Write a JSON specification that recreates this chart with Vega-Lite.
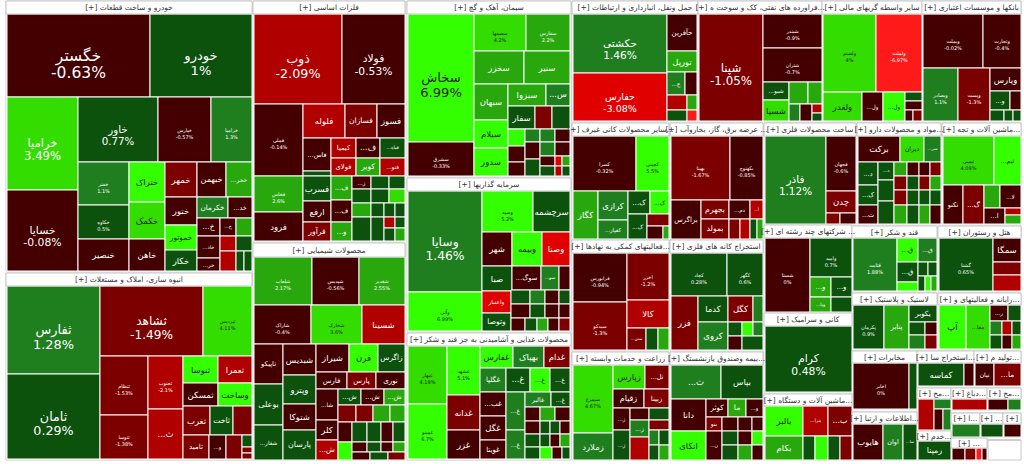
{
"$schema":"https://vega.github.io/schema/vega-lite/v6.json",
"width":1024,"height":464,"padding":0,
"autosize":{"type":"fit","contains":"padding"},
"background":"#ffffff",
"config":{"view":{"stroke":null},"font":"DejaVu Sans"},
"datasets":{
"groups":[
{"t":"[+] خودرو و ساخت قطعات","x0":6,"x1":252,"y0":1,"yh":14,"y1":271},
{"t":"[+] انبوه سازی، املاک و مستغلات","x0":6,"x1":252,"y0":273,"yh":286,"y1":460},
{"t":"[+] فلزات اساسی","x0":253,"x1":405,"y0":1,"yh":14,"y1":241},
{"t":"[+] محصولات شیمیایی","x0":253,"x1":405,"y0":243,"yh":257,"y1":460},
{"t":"[+] سیمان، آهک و گچ","x0":407,"x1":571,"y0":1,"yh":14,"y1":176},
{"t":"[+] سرمایه گذاریها","x0":407,"x1":571,"y0":178,"yh":191,"y1":331},
{"t":"[+] محصولات غذایی و آشامیدنی به جز قند و شکر","x0":407,"x1":571,"y0":333,"yh":346,"y1":460},
{"t":"[+] حمل ونقل، انبارداری و ارتباطات","x0":572,"x1":698,"y0":1,"yh":14,"y1":121},
{"t":"[+] فراورده های نفتی، کک و سوخت ه...","x0":698,"x1":822,"y0":1,"yh":14,"y1":121},
{"t":"[+] سایر واسطه گریهای مالی","x0":822,"x1":922,"y0":1,"yh":14,"y1":121},
{"t":"[+] بانکها و موسسات اعتباری","x0":922,"x1":1021,"y0":1,"yh":14,"y1":121},
{"t":"[+] سایر محصولات کانی غیرف...","x0":572,"x1":669,"y0":123,"yh":136,"y1":239},
{"t":"[+] عرضه برق، گاز، بخاروآب ...","x0":670,"x1":763,"y0":123,"yh":136,"y1":239},
{"t":"[+] ساخت محصولات فلزی","x0":764,"x1":856,"y0":123,"yh":136,"y1":224},
{"t":"[+] مواد و محصولات دارو...","x0":857,"x1":941,"y0":123,"yh":136,"y1":224},
{"t":"[+] ماشین آلات و تجه...","x0":942,"x1":1021,"y0":123,"yh":136,"y1":224},
{"t":"[+] شرکتهای چند رشته ای ...","x0":764,"x1":852,"y0":225,"yh":238,"y1":312},
{"t":"[+] کانی و سرامیک","x0":764,"x1":852,"y0":313,"yh":326,"y1":392},
{"t":"[+] ماشین آلات و دستگاه...","x0":764,"x1":852,"y0":394,"yh":406,"y1":460},
{"t":"[+] فعالیتهای کمکی به نهادها...","x0":572,"x1":669,"y0":240,"yh":253,"y1":350},
{"t":"[+] زراعت و خدمات وابسته","x0":572,"x1":669,"y0":352,"yh":365,"y1":460},
{"t":"[+] استخراج کانه های فلزی","x0":670,"x1":763,"y0":240,"yh":253,"y1":350},
{"t":"[+] بیمه وصندوق بازنشستگ...","x0":670,"x1":763,"y0":352,"yh":365,"y1":460},
{"t":"[+] قند و شکر","x0":852,"x1":937,"y0":226,"yh":238,"y1":291},
{"t":"[+] هتل و رستوران","x0":938,"x1":1021,"y0":226,"yh":238,"y1":291},
{"t":"[+] لاستیک و پلاستیک","x0":852,"x1":937,"y0":293,"yh":305,"y1":349},
{"t":"[+] رایانه و فعالیتهای و...","x0":938,"x1":1021,"y0":293,"yh":305,"y1":349},
{"t":"[+] مخابرات","x0":852,"x1":917,"y0":351,"yh":363,"y1":409},
{"t":"[+] استخراج سا...","x0":917,"x1":974,"y0":351,"yh":363,"y1":386},
{"t":"[+] تولید م...","x0":974,"x1":1021,"y0":351,"yh":363,"y1":386},
{"t":"[+] مح...","x0":917,"x1":951,"y0":388,"yh":399,"y1":430},
{"t":"[+] دباغ...","x0":951,"x1":987,"y0":388,"yh":399,"y1":410},
{"t":"[+] مح...","x0":987,"x1":1021,"y0":388,"yh":399,"y1":410},
{"t":"[+] اطلاعات و ارتبا...","x0":852,"x1":917,"y0":412,"yh":424,"y1":460},
{"t":"[+] ا...","x0":951,"x1":980,"y0":413,"yh":424,"y1":437},
{"t":"[+] ...","x0":980,"x1":1003,"y0":413,"yh":424,"y1":437},
{"t":"[+]","x0":1003,"x1":1021,"y0":413,"yh":424,"y1":437},
{"t":"[+] خدم...","x0":917,"x1":951,"y0":431,"yh":441,"y1":460},
{"t":"[+] ...","x0":951,"x1":987,"y0":438,"yh":448,"y1":460},
{"t":"","x0":988,"x1":1021,"y0":440,"yh":440,"y1":460}
],
"cells":[
{"n":"خگستر","p":"-0.63%","c":-0.63,"x0":7,"x1":150,"y0":14,"y1":97},
{"n":"خودرو","p":"1%","c":0.99,"x0":150,"x1":252,"y0":14,"y1":97},
{"n":"خرامیا","p":"3.49%","c":3.49,"x0":7,"x1":78,"y0":97,"y1":190},
{"n":"خسایا","p":"-0.08%","c":-0.08,"x0":7,"x1":78,"y0":190,"y1":271},
{"n":"خاور","p":"0.77%","c":0.77,"x0":78,"x1":158,"y0":97,"y1":162},
{"n":"خپارس","p":"-0.57%","c":-0.57,"x0":158,"x1":211,"y0":97,"y1":162},
{"n":"خزامیا","p":"1.3%","c":1.3,"x0":211,"x1":252,"y0":97,"y1":162},
{"n":"خفنر","p":"1.1%","c":1.1,"x0":78,"x1":129,"y0":162,"y1":205},
{"n":"خکاوه","p":"0.5%","c":0.5,"x0":78,"x1":129,"y0":205,"y1":239},
{"n":"خنصیر","c":-0.5,"x0":78,"x1":129,"y0":239,"y1":271},
{"n":"ختراک","c":6,"x0":129,"x1":165,"y0":162,"y1":202},
{"n":"خکمک","c":4,"x0":129,"x1":165,"y0":202,"y1":239},
{"n":"خاهن","c":-0.5,"x0":129,"x1":165,"y0":239,"y1":271},
{"n":"خمهر","c":-1.5,"x0":165,"x1":197,"y0":162,"y1":197},
{"n":"ختور","c":-0.5,"x0":165,"x1":197,"y0":197,"y1":225},
{"n":"خموتور","c":6,"x0":165,"x1":197,"y0":225,"y1":250},
{"n":"خکار","c":0.5,"x0":165,"x1":197,"y0":250,"y1":271},
{"n":"خبهمن","c":-0.5,"x0":197,"x1":226,"y0":162,"y1":197},
{"n":"...خجر","c":2.5,"x0":226,"x1":252,"y0":162,"y1":197},
{"n":"خکرمان","c":1.5,"x0":197,"x1":228,"y0":197,"y1":218},
{"n":"...خد","c":-0.5,"x0":228,"x1":252,"y0":197,"y1":218},
{"n":"...خ","c":-0.5,"x0":197,"x1":220,"y0":218,"y1":236},
{"n":"...خ","c":-0.5,"x0":220,"x1":236,"y0":218,"y1":236},
{"n":"","c":2.5,"x0":236,"x1":252,"y0":218,"y1":236},
{"n":"...خاذ","c":-0.5,"x0":197,"x1":220,"y0":236,"y1":258},
{"n":"","c":-2.2,"x0":220,"x1":236,"y0":236,"y1":251},
{"n":"","c":0.5,"x0":236,"x1":252,"y0":236,"y1":251},
{"n":"...خر","c":-0.5,"x0":197,"x1":220,"y0":258,"y1":271},
{"n":"","c":-2.2,"x0":220,"x1":236,"y0":251,"y1":271},
{"n":"","c":0.5,"x0":236,"x1":244,"y0":251,"y1":271},
{"n":"","c":0.5,"x0":244,"x1":252,"y0":251,"y1":271},

{"n":"ثفارس","p":"1.28%","c":1.28,"x0":7,"x1":100,"y0":286,"y1":374},
{"n":"ثامان","p":"0.29%","c":0.29,"x0":7,"x1":100,"y0":374,"y1":459},
{"n":"ثشاهد","p":"-1.49%","c":-1.49,"x0":100,"x1":203,"y0":286,"y1":356},
{"n":"ثپردیس","p":"4.11%","c":4.11,"x0":203,"x1":252,"y0":286,"y1":356},
{"n":"ثنظام","p":"-1.53%","c":-1.53,"x0":100,"x1":148,"y0":356,"y1":415},
{"n":"ثتوسا","p":"-1.38%","c":-1.38,"x0":100,"x1":148,"y0":415,"y1":459},
{"n":"ثجنوب","p":"-2.1%","c":-2.1,"x0":148,"x1":183,"y0":356,"y1":409},
{"n":"...ث","c":-2.2,"x0":148,"x1":183,"y0":409,"y1":459},
{"n":"ثنوسا","c":6,"x0":183,"x1":218,"y0":356,"y1":383},
{"n":"ثعمرا","c":-2.2,"x0":218,"x1":252,"y0":356,"y1":383},
{"n":"ثمسکن","c":-0.5,"x0":183,"x1":218,"y0":383,"y1":406},
{"n":"وساخت","c":6,"x0":218,"x1":252,"y0":383,"y1":406},
{"n":"ثغرب","c":-1.5,"x0":183,"x1":210,"y0":406,"y1":435},
{"n":"ثاخت","c":0.5,"x0":210,"x1":233,"y0":406,"y1":435},
{"n":"","c":-1.5,"x0":233,"x1":252,"y0":406,"y1":435},
{"n":"ثامید","c":-1.5,"x0":183,"x1":209,"y0":435,"y1":459},
{"n":"...و","c":-0.5,"x0":209,"x1":226,"y0":435,"y1":459},
{"n":"","c":-1.5,"x0":226,"x1":242,"y0":435,"y1":459},
{"n":"","c":0.5,"x0":242,"x1":252,"y0":435,"y1":447},
{"n":"","c":-1.5,"x0":242,"x1":252,"y0":447,"y1":453},
{"n":"","c":-1.5,"x0":242,"x1":252,"y0":453,"y1":459},

{"n":"ذوب","p":"-2.09%","c":-2.09,"x0":254,"x1":342,"y0":14,"y1":104},
{"n":"فولاد","p":"-0.53%","c":-0.53,"x0":342,"x1":405,"y0":14,"y1":104},
{"n":"فملی","p":"-0.14%","c":-0.14,"x0":254,"x1":303,"y0":104,"y1":176},
{"n":"فلوله","c":-2.2,"x0":303,"x1":345,"y0":104,"y1":138},
{"n":"فسازان","c":-1.5,"x0":345,"x1":377,"y0":104,"y1":138},
{"n":"فسوز","c":-0.5,"x0":377,"x1":405,"y0":104,"y1":138},
{"n":"...فاس","c":-0.5,"x0":303,"x1":331,"y0":138,"y1":171},
{"n":"","c":0.5,"x0":303,"x1":331,"y0":171,"y1":176},
{"n":"کیمیا","c":-2.2,"x0":331,"x1":356,"y0":138,"y1":158},
{"n":"...ف","c":-0.5,"x0":356,"x1":380,"y0":138,"y1":158},
{"n":"...فباه","c":0.5,"x0":380,"x1":405,"y0":138,"y1":158},
{"n":"فولای","c":-2.2,"x0":331,"x1":356,"y0":158,"y1":176},
{"n":"کویر","c":2.5,"x0":356,"x1":380,"y0":158,"y1":176},
{"n":"...فنو","c":-2.2,"x0":380,"x1":405,"y0":158,"y1":176},
{"n":"فخاس","p":"2.6%","c":2.6,"x0":254,"x1":303,"y0":176,"y1":212},
{"n":"فرود","c":-0.5,"x0":254,"x1":303,"y0":212,"y1":241},
{"n":"فسرب","c":0.5,"x0":303,"x1":331,"y0":176,"y1":201},
{"n":"ارفع","c":-0.5,"x0":303,"x1":331,"y0":201,"y1":222},
{"n":"فرآور","c":-1.5,"x0":303,"x1":331,"y0":222,"y1":241},
{"n":"...ف","c":2.5,"x0":331,"x1":352,"y0":176,"y1":200},
{"n":"...ف","c":-0.5,"x0":331,"x1":352,"y0":200,"y1":222},
{"n":"...و","c":2.5,"x0":331,"x1":352,"y0":222,"y1":241},
{"n":"...ز","c":-0.5,"x0":352,"x1":371,"y0":176,"y1":189},
{"n":"","c":0.5,"x0":371,"x1":389,"y0":176,"y1":189},
{"n":"","c":0.5,"x0":389,"x1":405,"y0":176,"y1":189},
{"n":"","c":0.5,"x0":352,"x1":371,"y0":189,"y1":203},
{"n":"","c":0.5,"x0":371,"x1":389,"y0":189,"y1":203},
{"n":"","c":4,"x0":389,"x1":405,"y0":189,"y1":203},
{"n":"","c":2.5,"x0":352,"x1":371,"y0":203,"y1":217},
{"n":"","c":0.5,"x0":371,"x1":384,"y0":203,"y1":217},
{"n":"","c":0.5,"x0":384,"x1":395,"y0":203,"y1":217},
{"n":"","c":0.5,"x0":395,"x1":405,"y0":203,"y1":217},
{"n":"","c":0.5,"x0":352,"x1":371,"y0":217,"y1":241},
{"n":"","c":0.5,"x0":371,"x1":384,"y0":217,"y1":241},
{"n":"","c":-2.2,"x0":384,"x1":395,"y0":217,"y1":228},
{"n":"","c":0.5,"x0":395,"x1":405,"y0":217,"y1":228},
{"n":"","c":0.5,"x0":384,"x1":395,"y0":228,"y1":241},
{"n":"","c":2.5,"x0":395,"x1":405,"y0":228,"y1":241},

{"n":"شلعاب","p":"2.17%","c":2.17,"x0":254,"x1":312,"y0":257,"y1":305},
{"n":"شپدیس","p":"-0.56%","c":-0.56,"x0":312,"x1":359,"y0":257,"y1":305},
{"n":"شغدیر","p":"2.55%","c":2.55,"x0":359,"x1":405,"y0":257,"y1":305},
{"n":"شاراک","p":"-0.4%","c":-0.4,"x0":254,"x1":311,"y0":305,"y1":344},
{"n":"شخارک","p":"3.6%","c":3.6,"x0":311,"x1":362,"y0":305,"y1":344},
{"n":"شسینا","c":-2.2,"x0":362,"x1":405,"y0":305,"y1":344},
{"n":"تاپیکو","c":-0.5,"x0":254,"x1":283,"y0":344,"y1":384},
{"n":"بوعلی","c":0.5,"x0":254,"x1":283,"y0":384,"y1":425},
{"n":"...شفار","c":0.5,"x0":254,"x1":283,"y0":425,"y1":460},
{"n":"شبدیس","c":-0.5,"x0":283,"x1":316,"y0":344,"y1":375},
{"n":"وپترو","c":0.5,"x0":283,"x1":316,"y0":375,"y1":404},
{"n":"شتوکا","c":-0.5,"x0":283,"x1":316,"y0":404,"y1":430},
{"n":"پارسان","c":0.5,"x0":283,"x1":316,"y0":430,"y1":460},
{"n":"شیراز","c":-0.5,"x0":316,"x1":349,"y0":344,"y1":372},
{"n":"فرن","c":6,"x0":349,"x1":378,"y0":344,"y1":372},
{"n":"زاگرس","c":0.5,"x0":378,"x1":405,"y0":344,"y1":372},
{"n":"فارس","c":-0.5,"x0":316,"x1":347,"y0":372,"y1":389},
{"n":"پارس","c":-1.5,"x0":347,"x1":376,"y0":372,"y1":389},
{"n":"نوری","c":-0.5,"x0":376,"x1":405,"y0":372,"y1":389},
{"n":"...شا","c":-0.5,"x0":316,"x1":338,"y0":389,"y1":420},
{"n":"کلر","c":-0.5,"x0":316,"x1":338,"y0":420,"y1":440},
{"n":"...ش","c":-2.2,"x0":316,"x1":338,"y0":440,"y1":460},
{"n":"...ش","c":0.5,"x0":338,"x1":361,"y0":389,"y1":405},
{"n":"...ش","c":-0.5,"x0":361,"x1":384,"y0":389,"y1":405},
{"n":"...ش","c":2.5,"x0":384,"x1":405,"y0":389,"y1":405},
{"n":"","c":-1.5,"x0":338,"x1":356,"y0":405,"y1":422},
{"n":"","c":-1.5,"x0":356,"x1":373,"y0":405,"y1":422},
{"n":"","c":2.5,"x0":373,"x1":390,"y0":405,"y1":422},
{"n":"","c":2.5,"x0":390,"x1":405,"y0":405,"y1":422},
{"n":"","c":-0.5,"x0":338,"x1":352,"y0":422,"y1":442},
{"n":"","c":0.5,"x0":352,"x1":367,"y0":422,"y1":442},
{"n":"","c":0.5,"x0":367,"x1":381,"y0":422,"y1":442},
{"n":"","c":-0.5,"x0":381,"x1":393,"y0":422,"y1":442},
{"n":"","c":0.5,"x0":393,"x1":405,"y0":422,"y1":442},
{"n":"","c":6,"x0":338,"x1":352,"y0":442,"y1":460},
{"n":"","c":-0.5,"x0":352,"x1":367,"y0":442,"y1":452},
{"n":"","c":0.5,"x0":367,"x1":381,"y0":442,"y1":452},
{"n":"","c":-0.5,"x0":381,"x1":393,"y0":442,"y1":452},
{"n":"","c":2.5,"x0":393,"x1":405,"y0":442,"y1":452},
{"n":"","c":-0.5,"x0":352,"x1":370,"y0":452,"y1":460},
{"n":"","c":0.5,"x0":370,"x1":388,"y0":452,"y1":460},
{"n":"","c":-1.5,"x0":388,"x1":405,"y0":452,"y1":460},

{"n":"سخاش","p":"6.99%","c":6.99,"x0":408,"x1":474,"y0":14,"y1":142},
{"n":"سشرق","p":"-0.33%","c":-0.33,"x0":408,"x1":474,"y0":142,"y1":176},
{"n":"سصفها","p":"4.2%","c":4.2,"x0":474,"x1":526,"y0":14,"y1":51},
{"n":"سفارس","p":"2.2%","c":2.2,"x0":526,"x1":570,"y0":14,"y1":51},
{"n":"سخزر","c":2.5,"x0":474,"x1":524,"y0":51,"y1":84},
{"n":"سنیر","c":2.5,"x0":524,"x1":570,"y0":51,"y1":84},
{"n":"سبهان","c":2.5,"x0":474,"x1":508,"y0":84,"y1":120},
{"n":"سیلام","c":6,"x0":474,"x1":508,"y0":120,"y1":148},
{"n":"سدور","c":6,"x0":474,"x1":508,"y0":148,"y1":176},
{"n":"سبزوا","c":2.5,"x0":508,"x1":546,"y0":84,"y1":106},
{"n":"...س","c":1.5,"x0":546,"x1":570,"y0":84,"y1":106},
{"n":"سفار","c":0.5,"x0":508,"x1":535,"y0":106,"y1":129},
{"n":"","c":-1.5,"x0":535,"x1":552,"y0":106,"y1":129},
{"n":"","c":0.5,"x0":552,"x1":570,"y0":106,"y1":129},
{"n":"","c":6,"x0":508,"x1":525,"y0":129,"y1":146},
{"n":"","c":1.5,"x0":525,"x1":540,"y0":129,"y1":142},
{"n":"","c":1.5,"x0":540,"x1":555,"y0":129,"y1":142},
{"n":"","c":-0.5,"x0":555,"x1":570,"y0":129,"y1":142},
{"n":"","c":-0.5,"x0":508,"x1":525,"y0":146,"y1":162},
{"n":"","c":-0.5,"x0":508,"x1":525,"y0":162,"y1":176},
{"n":"","c":-0.5,"x0":525,"x1":540,"y0":142,"y1":159},
{"n":"","c":1.5,"x0":540,"x1":555,"y0":142,"y1":156},
{"n":"","c":-0.5,"x0":555,"x1":570,"y0":142,"y1":156},
{"n":"","c":0.5,"x0":525,"x1":540,"y0":159,"y1":176},
{"n":"","c":-0.5,"x0":540,"x1":555,"y0":156,"y1":166},
{"n":"","c":-3.5,"x0":555,"x1":562,"y0":156,"y1":166},
{"n":"","c":2.5,"x0":562,"x1":570,"y0":156,"y1":166},
{"n":"","c":0.5,"x0":540,"x1":555,"y0":166,"y1":176},
{"n":"","c":-2.2,"x0":555,"x1":562,"y0":166,"y1":176},
{"n":"","c":0.5,"x0":562,"x1":570,"y0":166,"y1":176},

{"n":"وسایا","p":"1.46%","c":1.46,"x0":408,"x1":482,"y0":191,"y1":292},
{"n":"وآتی","p":"6.99%","c":6.99,"x0":408,"x1":482,"y0":292,"y1":331},
{"n":"وسپه","p":"5.2%","c":5.2,"x0":482,"x1":533,"y0":191,"y1":232},
{"n":"سرچشمه","c":0.5,"x0":533,"x1":570,"y0":191,"y1":232},
{"n":"شهر","c":-0.5,"x0":482,"x1":512,"y0":232,"y1":266},
{"n":"وبیمه","c":6,"x0":512,"x1":542,"y0":232,"y1":266},
{"n":"وصنا","c":-3.5,"x0":542,"x1":570,"y0":232,"y1":266},
{"n":"صبا","c":0.5,"x0":482,"x1":512,"y0":266,"y1":291},
{"n":"...سوگ","c":-0.5,"x0":512,"x1":541,"y0":266,"y1":290},
{"n":"...سو","c":1.5,"x0":541,"x1":559,"y0":266,"y1":290},
{"n":"","c":-0.5,"x0":559,"x1":570,"y0":266,"y1":290},
{"n":"واعتبار","c":-3.5,"x0":482,"x1":511,"y0":291,"y1":313},
{"n":"وتوصا","c":0.5,"x0":482,"x1":511,"y0":313,"y1":331},
{"n":"","c":0.5,"x0":511,"x1":530,"y0":290,"y1":304},
{"n":"","c":1.5,"x0":530,"x1":545,"y0":290,"y1":304},
{"n":"","c":-0.5,"x0":545,"x1":559,"y0":290,"y1":304},
{"n":"","c":0.5,"x0":559,"x1":570,"y0":290,"y1":304},
{"n":"","c":-0.5,"x0":511,"x1":530,"y0":304,"y1":318},
{"n":"","c":0.5,"x0":530,"x1":545,"y0":304,"y1":318},
{"n":"","c":-0.5,"x0":545,"x1":559,"y0":304,"y1":318},
{"n":"","c":-0.5,"x0":559,"x1":570,"y0":304,"y1":318},
{"n":"","c":-0.5,"x0":511,"x1":525,"y0":318,"y1":331},
{"n":"","c":0.5,"x0":525,"x1":537,"y0":318,"y1":331},
{"n":"","c":2.5,"x0":537,"x1":548,"y0":318,"y1":331},
{"n":"","c":-0.5,"x0":548,"x1":559,"y0":318,"y1":331},
{"n":"","c":-1.5,"x0":559,"x1":570,"y0":318,"y1":331},

{"n":"غبهار","p":"4.19%","c":4.19,"x0":408,"x1":447,"y0":346,"y1":404},
{"n":"غمینو","p":"6.7%","c":6.7,"x0":408,"x1":447,"y0":404,"y1":459},
{"n":"غشهد","p":"5.1%","c":5.1,"x0":447,"x1":480,"y0":346,"y1":395},
{"n":"غدانه","c":-1.5,"x0":447,"x1":480,"y0":395,"y1":430},
{"n":"غزر","c":-0.5,"x0":447,"x1":480,"y0":430,"y1":459},
{"n":"غفارس","c":6,"x0":480,"x1":513,"y0":346,"y1":368},
{"n":"بهپاک","c":1.5,"x0":513,"x1":544,"y0":346,"y1":368},
{"n":"غدام","c":-1.5,"x0":544,"x1":570,"y0":346,"y1":368},
{"n":"غگلپا","c":1.5,"x0":480,"x1":506,"y0":368,"y1":392},
{"n":"...غ","c":0.5,"x0":506,"x1":530,"y0":368,"y1":392},
{"n":"...غ","c":6,"x0":530,"x1":550,"y0":368,"y1":392},
{"n":"...غ","c":0.5,"x0":550,"x1":570,"y0":368,"y1":392},
{"n":"...غب","c":-0.5,"x0":480,"x1":506,"y0":392,"y1":416},
{"n":"غگل","c":-0.5,"x0":480,"x1":506,"y0":416,"y1":440},
{"n":"غویتا","c":-0.5,"x0":480,"x1":506,"y0":440,"y1":459},
{"n":"...غ","c":1.5,"x0":506,"x1":525,"y0":392,"y1":430},
{"n":"...غ","c":1.5,"x0":506,"x1":525,"y0":430,"y1":459},
{"n":"غالبر","c":1.5,"x0":525,"x1":551,"y0":392,"y1":407},
{"n":"...غ","c":0.5,"x0":551,"x1":570,"y0":392,"y1":407},
{"n":"","c":-0.5,"x0":525,"x1":540,"y0":407,"y1":421},
{"n":"","c":2.5,"x0":540,"x1":555,"y0":407,"y1":421},
{"n":"","c":-0.5,"x0":555,"x1":570,"y0":407,"y1":421},
{"n":"","c":-0.5,"x0":525,"x1":540,"y0":421,"y1":434},
{"n":"","c":0.5,"x0":540,"x1":550,"y0":421,"y1":434},
{"n":"","c":0.5,"x0":550,"x1":560,"y0":421,"y1":434},
{"n":"","c":-0.5,"x0":560,"x1":570,"y0":421,"y1":434},
{"n":"","c":0.5,"x0":525,"x1":540,"y0":434,"y1":447},
{"n":"","c":0.5,"x0":540,"x1":550,"y0":434,"y1":447},
{"n":"","c":-0.5,"x0":550,"x1":560,"y0":434,"y1":447},
{"n":"","c":2.5,"x0":560,"x1":570,"y0":434,"y1":447},
{"n":"","c":0.5,"x0":525,"x1":540,"y0":447,"y1":459},
{"n":"","c":6,"x0":540,"x1":552,"y0":447,"y1":459},
{"n":"","c":-0.5,"x0":552,"x1":562,"y0":447,"y1":459},
{"n":"","c":0.5,"x0":562,"x1":570,"y0":447,"y1":459},

{"n":"حکشتی","p":"1.46%","c":1.46,"x0":573,"x1":667,"y0":14,"y1":73},
{"n":"حفارس","p":"-3.08%","c":-3.08,"x0":573,"x1":667,"y0":73,"y1":121},
{"n":"حآفرین","c":-0.5,"x0":667,"x1":697,"y0":14,"y1":51},
{"n":"تورپل","c":2.5,"x0":667,"x1":697,"y0":51,"y1":72},
{"n":"...ح","c":1.5,"x0":667,"x1":685,"y0":72,"y1":95},
{"n":"","c":-0.5,"x0":685,"x1":697,"y0":72,"y1":95},
{"n":"","c":-2.2,"x0":667,"x1":687,"y0":95,"y1":110},
{"n":"","c":2.5,"x0":687,"x1":697,"y0":95,"y1":110},
{"n":"","c":0.5,"x0":667,"x1":687,"y0":110,"y1":121},
{"n":"","c":-6,"x0":687,"x1":697,"y0":110,"y1":121},

{"n":"شپنا","p":"-1.05%","c":-1.05,"x0":699,"x1":763,"y0":14,"y1":121},
{"n":"شبندر","p":"-0.9%","c":-0.9,"x0":763,"x1":822,"y0":14,"y1":48},
{"n":"شتران","p":"-0.7%","c":-0.7,"x0":763,"x1":822,"y0":48,"y1":82},
{"n":"...شبو","c":0.5,"x0":763,"x1":789,"y0":82,"y1":100},
{"n":"شسپا","c":4,"x0":763,"x1":789,"y0":100,"y1":121},
{"n":"","c":2.5,"x0":789,"x1":808,"y0":82,"y1":104},
{"n":"","c":2.5,"x0":808,"x1":822,"y0":82,"y1":104},
{"n":"","c":1.5,"x0":789,"x1":800,"y0":104,"y1":121},
{"n":"","c":-0.5,"x0":800,"x1":812,"y0":104,"y1":121},
{"n":"","c":-2.2,"x0":812,"x1":822,"y0":104,"y1":113},
{"n":"","c":0.5,"x0":812,"x1":822,"y0":113,"y1":121},

{"n":"ولصنم","p":"4%","c":4,"x0":823,"x1":876,"y0":14,"y1":92},
{"n":"ولملت","p":"-6.97%","c":-6.97,"x0":876,"x1":922,"y0":14,"y1":92},
{"n":"ولغدر","c":4,"x0":823,"x1":862,"y0":92,"y1":121},
{"n":"...ول","c":-0.5,"x0":862,"x1":883,"y0":92,"y1":121},
{"n":"...ول","c":6,"x0":883,"x1":905,"y0":92,"y1":121},
{"n":"","c":0.5,"x0":905,"x1":922,"y0":92,"y1":101},
{"n":"","c":-0.5,"x0":905,"x1":922,"y0":101,"y1":110},
{"n":"","c":-0.5,"x0":905,"x1":913,"y0":110,"y1":121},
{"n":"","c":-1.5,"x0":913,"x1":922,"y0":110,"y1":121},

{"n":"وبملت","p":"-0.02%","c":-0.02,"x0":923,"x1":983,"y0":14,"y1":68},
{"n":"وتجارت","p":"-0.4%","c":-0.4,"x0":983,"x1":1021,"y0":14,"y1":68},
{"n":"وبصادر","p":"1.1%","c":1.1,"x0":923,"x1":958,"y0":68,"y1":121},
{"n":"وپست","p":"-1.3%","c":-1.3,"x0":958,"x1":990,"y0":68,"y1":121},
{"n":"وپارس","c":-0.5,"x0":990,"x1":1021,"y0":68,"y1":91},
{"n":"...و","c":0.5,"x0":990,"x1":1010,"y0":91,"y1":110},
{"n":"","c":-0.5,"x0":1010,"x1":1021,"y0":91,"y1":110},
{"n":"","c":0.5,"x0":990,"x1":1004,"y0":110,"y1":121},
{"n":"","c":0.5,"x0":1004,"x1":1013,"y0":110,"y1":121},
{"n":"","c":0.5,"x0":1013,"x1":1021,"y0":110,"y1":121},

{"n":"کسرا","p":"-0.32%","c":-0.32,"x0":573,"x1":636,"y0":136,"y1":191},
{"n":"کچینی","p":"5.5%","c":5.5,"x0":636,"x1":669,"y0":136,"y1":191},
{"n":"کگاز","c":2.5,"x0":573,"x1":598,"y0":191,"y1":239},
{"n":"کرازی","c":1.5,"x0":598,"x1":628,"y0":191,"y1":220},
{"n":"...کفپار","c":1.5,"x0":598,"x1":628,"y0":220,"y1":239},
{"n":"...ک","c":0.5,"x0":628,"x1":650,"y0":191,"y1":214},
{"n":"...ک","c":6,"x0":650,"x1":669,"y0":191,"y1":214},
{"n":"...ک","c":0.5,"x0":628,"x1":647,"y0":214,"y1":239},
{"n":"","c":-1.5,"x0":647,"x1":669,"y0":214,"y1":226},
{"n":"","c":-0.5,"x0":647,"x1":663,"y0":226,"y1":239},
{"n":"","c":2.5,"x0":663,"x1":669,"y0":226,"y1":239},

{"n":"بهپنا","p":"-1.67%","c":-1.67,"x0":671,"x1":730,"y0":136,"y1":200},
{"n":"بکهنوج","p":"-0.85%","c":-0.85,"x0":730,"x1":763,"y0":136,"y1":200},
{"n":"براگرس","c":-0.5,"x0":671,"x1":701,"y0":200,"y1":239},
{"n":"بجهرم","c":-1.5,"x0":701,"x1":729,"y0":200,"y1":219},
{"n":"بمولد","c":-1.5,"x0":701,"x1":729,"y0":219,"y1":239},
{"n":"...دم","c":-0.5,"x0":729,"x1":750,"y0":200,"y1":219},
{"n":"...آ","c":-2.2,"x0":750,"x1":763,"y0":200,"y1":219},
{"n":"","c":-1.5,"x0":729,"x1":740,"y0":219,"y1":239},
{"n":"","c":-2.2,"x0":740,"x1":750,"y0":219,"y1":239},
{"n":"","c":0.5,"x0":750,"x1":757,"y0":219,"y1":239},
{"n":"","c":2.5,"x0":757,"x1":763,"y0":219,"y1":239},

{"n":"فاذر","p":"1.12%","c":1.12,"x0":765,"x1":826,"y0":136,"y1":224},
{"n":"فجهان","p":"-0.6%","c":-0.6,"x0":826,"x1":856,"y0":136,"y1":191},
{"n":"چدن","c":-1.5,"x0":826,"x1":856,"y0":191,"y1":213},
{"n":"","c":-1.5,"x0":826,"x1":840,"y0":213,"y1":224},
{"n":"","c":-0.5,"x0":840,"x1":856,"y0":213,"y1":224},

{"n":"برکت","c":-0.5,"x0":858,"x1":900,"y0":136,"y1":162},
{"n":"دیران","c":4,"x0":900,"x1":924,"y0":136,"y1":162},
{"n":"...سر","c":1.5,"x0":924,"x1":941,"y0":136,"y1":162},
{"n":"...د","c":0.5,"x0":858,"x1":878,"y0":162,"y1":185},
{"n":"...ک","c":0.5,"x0":858,"x1":878,"y0":185,"y1":205},
{"n":"...ت","c":-0.5,"x0":858,"x1":878,"y0":205,"y1":224},
{"n":"...د","c":0.5,"x0":878,"x1":894,"y0":162,"y1":180},
{"n":"","c":0.5,"x0":878,"x1":894,"y0":180,"y1":201},
{"n":"","c":0.5,"x0":878,"x1":894,"y0":201,"y1":224},
{"n":"","c":2.5,"x0":894,"x1":907,"y0":162,"y1":176},
{"n":"","c":-0.5,"x0":907,"x1":919,"y0":162,"y1":176},
{"n":"","c":-0.5,"x0":919,"x1":930,"y0":162,"y1":176},
{"n":"","c":-1.5,"x0":930,"x1":941,"y0":162,"y1":176},
{"n":"","c":-1.5,"x0":894,"x1":907,"y0":176,"y1":190},
{"n":"","c":0.5,"x0":907,"x1":919,"y0":176,"y1":190},
{"n":"","c":-1.5,"x0":919,"x1":930,"y0":176,"y1":190},
{"n":"","c":2.5,"x0":930,"x1":941,"y0":176,"y1":190},
{"n":"","c":-1.5,"x0":894,"x1":907,"y0":190,"y1":205},
{"n":"","c":0.5,"x0":907,"x1":919,"y0":190,"y1":205},
{"n":"","c":0.5,"x0":919,"x1":930,"y0":190,"y1":205},
{"n":"","c":0.5,"x0":930,"x1":941,"y0":190,"y1":205},
{"n":"","c":2.5,"x0":894,"x1":907,"y0":205,"y1":224},
{"n":"","c":0.5,"x0":907,"x1":919,"y0":205,"y1":224},
{"n":"","c":2.5,"x0":919,"x1":930,"y0":205,"y1":224},
{"n":"","c":-0.5,"x0":930,"x1":941,"y0":205,"y1":224},

{"n":"تپمپی","p":"4.09%","c":4.09,"x0":943,"x1":994,"y0":136,"y1":185},
{"n":"...ثیم","c":6,"x0":994,"x1":1021,"y0":136,"y1":185},
{"n":"تکنو","c":-0.5,"x0":943,"x1":963,"y0":185,"y1":224},
{"n":"...گ","c":-1.5,"x0":963,"x1":984,"y0":185,"y1":224},
{"n":"","c":2.5,"x0":984,"x1":1000,"y0":185,"y1":208},
{"n":"...لا","c":-0.5,"x0":1000,"x1":1021,"y0":185,"y1":208},
{"n":"...ا","c":-0.5,"x0":984,"x1":1005,"y0":208,"y1":224},
{"n":"","c":-2.2,"x0":1005,"x1":1021,"y0":208,"y1":215},
{"n":"","c":2.5,"x0":1005,"x1":1021,"y0":215,"y1":224},

{"n":"شستا","p":"0%","c":-0.001,"x0":765,"x1":810,"y0":238,"y1":312},
{"n":"وامید","p":"0.7%","c":0.7,"x0":810,"x1":852,"y0":238,"y1":277},
{"n":"...و","c":2.5,"x0":810,"x1":831,"y0":277,"y1":297},
{"n":"...و","c":0.5,"x0":831,"x1":852,"y0":277,"y1":297},
{"n":"...وبا","c":2.5,"x0":810,"x1":831,"y0":297,"y1":312},
{"n":"","c":0.5,"x0":831,"x1":852,"y0":297,"y1":312},

{"n":"کرام","p":"0.48%","c":0.48,"x0":765,"x1":852,"y0":326,"y1":392},

{"n":"بالبر","c":6,"x0":765,"x1":803,"y0":406,"y1":436},
{"n":"بکام","c":2.5,"x0":765,"x1":803,"y0":436,"y1":460},
{"n":"...بترا","c":-2.2,"x0":803,"x1":828,"y0":406,"y1":436},
{"n":"...ب","c":-1.5,"x0":828,"x1":852,"y0":406,"y1":436},
{"n":"","c":0.5,"x0":803,"x1":815,"y0":436,"y1":460},
{"n":"","c":6,"x0":815,"x1":828,"y0":436,"y1":460},
{"n":"","c":0.5,"x0":828,"x1":840,"y0":436,"y1":460},
{"n":"","c":-1.5,"x0":840,"x1":852,"y0":436,"y1":460},

{"n":"فرابورس","p":"-0.94%","c":-0.94,"x0":573,"x1":627,"y0":253,"y1":302},
{"n":"اخزر","p":"-1.2%","c":-1.2,"x0":627,"x1":669,"y0":253,"y1":300},
{"n":"سیدکو","p":"-1.3%","c":-1.3,"x0":573,"x1":627,"y0":302,"y1":350},
{"n":"کالا","c":-2.2,"x0":627,"x1":669,"y0":300,"y1":328},
{"n":"...ستن","c":-1.5,"x0":627,"x1":646,"y0":328,"y1":350},
{"n":"","c":0.5,"x0":646,"x1":658,"y0":328,"y1":350},
{"n":"","c":2.5,"x0":658,"x1":669,"y0":328,"y1":350},

{"n":"سیمرغ","p":"4.67%","c":4.67,"x0":573,"x1":613,"y0":365,"y1":433},
{"n":"زملارد","c":1.5,"x0":573,"x1":613,"y0":433,"y1":460},
{"n":"زپارس","c":4,"x0":613,"x1":645,"y0":365,"y1":389},
{"n":"...تل","c":-1.5,"x0":645,"x1":669,"y0":365,"y1":389},
{"n":"زقیام","c":-0.5,"x0":613,"x1":644,"y0":389,"y1":408},
{"n":"زبینا","c":-1.5,"x0":644,"x1":669,"y0":389,"y1":408},
{"n":"...ز","c":-0.5,"x0":613,"x1":630,"y0":408,"y1":430},
{"n":"...ز","c":0.5,"x0":613,"x1":630,"y0":430,"y1":460},
{"n":"","c":-0.5,"x0":630,"x1":649,"y0":408,"y1":420},
{"n":"","c":0.5,"x0":649,"x1":669,"y0":408,"y1":420},
{"n":"...ز","c":1.5,"x0":630,"x1":649,"y0":420,"y1":437},
{"n":"","c":-1.5,"x0":649,"x1":669,"y0":420,"y1":430},
{"n":"","c":-2.2,"x0":630,"x1":649,"y0":437,"y1":460},
{"n":"","c":1.5,"x0":649,"x1":659,"y0":430,"y1":445},
{"n":"","c":0.5,"x0":659,"x1":669,"y0":430,"y1":445},
{"n":"","c":0.5,"x0":649,"x1":659,"y0":445,"y1":460},
{"n":"","c":2.5,"x0":659,"x1":669,"y0":445,"y1":460},

{"n":"کچاد","p":"0.28%","c":0.28,"x0":671,"x1":727,"y0":253,"y1":296},
{"n":"کگهر","p":"0.6%","c":0.6,"x0":727,"x1":763,"y0":253,"y1":296},
{"n":"فزر","c":-1.5,"x0":671,"x1":698,"y0":296,"y1":350},
{"n":"کدما","c":0.5,"x0":698,"x1":728,"y0":296,"y1":322},
{"n":"کروی","c":1.5,"x0":698,"x1":728,"y0":322,"y1":350},
{"n":"کگل","c":-1.5,"x0":728,"x1":753,"y0":296,"y1":322},
{"n":"","c":1.5,"x0":753,"x1":763,"y0":296,"y1":322},
{"n":"","c":0.5,"x0":728,"x1":742,"y0":322,"y1":336},
{"n":"","c":6,"x0":742,"x1":753,"y0":322,"y1":336},
{"n":"","c":1.5,"x0":753,"x1":763,"y0":322,"y1":336},
{"n":"","c":-0.5,"x0":728,"x1":742,"y0":336,"y1":350},
{"n":"","c":0.5,"x0":742,"x1":763,"y0":336,"y1":350},

{"n":"...ث","c":1.5,"x0":671,"x1":721,"y0":365,"y1":399},
{"n":"بپاس","c":0.5,"x0":721,"x1":763,"y0":365,"y1":399},
{"n":"دانا","c":-0.5,"x0":671,"x1":706,"y0":399,"y1":431},
{"n":"اتکای","c":6,"x0":671,"x1":706,"y0":431,"y1":460},
{"n":"کوثر","c":-0.5,"x0":706,"x1":728,"y0":399,"y1":417},
{"n":"ما","c":2.5,"x0":728,"x1":746,"y0":399,"y1":417},
{"n":"...و","c":-0.5,"x0":746,"x1":763,"y0":399,"y1":417},
{"n":"بنو","c":-1.5,"x0":706,"x1":722,"y0":417,"y1":431},
{"n":"","c":-0.5,"x0":722,"x1":738,"y0":417,"y1":431},
{"n":"","c":-0.5,"x0":738,"x1":752,"y0":417,"y1":431},
{"n":"","c":-0.5,"x0":752,"x1":763,"y0":417,"y1":431},
{"n":"...ن","c":-0.5,"x0":706,"x1":722,"y0":431,"y1":460},
{"n":"","c":0.5,"x0":722,"x1":738,"y0":431,"y1":445},
{"n":"","c":-0.5,"x0":738,"x1":752,"y0":431,"y1":445},
{"n":"","c":6,"x0":752,"x1":763,"y0":431,"y1":445},
{"n":"","c":0.5,"x0":722,"x1":738,"y0":445,"y1":460},
{"n":"","c":2.5,"x0":738,"x1":752,"y0":445,"y1":460},
{"n":"","c":-0.5,"x0":752,"x1":763,"y0":445,"y1":460},

{"n":"قثابت","p":"1.88%","c":1.88,"x0":853,"x1":897,"y0":238,"y1":291},
{"n":"...ق","c":6,"x0":897,"x1":918,"y0":238,"y1":262},
{"n":"...ق","c":1.5,"x0":918,"x1":937,"y0":238,"y1":262},
{"n":"...ق","c":0.5,"x0":897,"x1":918,"y0":262,"y1":282},
{"n":"","c":6,"x0":897,"x1":918,"y0":282,"y1":291},
{"n":"","c":0.5,"x0":918,"x1":928,"y0":262,"y1":276},
{"n":"","c":0.5,"x0":928,"x1":937,"y0":262,"y1":276},
{"n":"","c":0.5,"x0":918,"x1":925,"y0":276,"y1":291},
{"n":"","c":6,"x0":925,"x1":931,"y0":276,"y1":291},
{"n":"","c":2.5,"x0":931,"x1":937,"y0":276,"y1":291},

{"n":"گشنا","p":"0.65%","c":0.65,"x0":939,"x1":993,"y0":238,"y1":291},
{"n":"سمگا","c":-0.5,"x0":993,"x1":1021,"y0":238,"y1":262},
{"n":"","c":-1.5,"x0":993,"x1":1021,"y0":262,"y1":275},
{"n":"","c":-2.2,"x0":993,"x1":1021,"y0":275,"y1":291},

{"n":"پکرمان","p":"0.9%","c":0.9,"x0":853,"x1":884,"y0":305,"y1":349},
{"n":"پتایر","c":2.5,"x0":884,"x1":909,"y0":305,"y1":349},
{"n":"یکوبر","c":0.5,"x0":909,"x1":937,"y0":305,"y1":322},
{"n":"","c":0.5,"x0":909,"x1":925,"y0":322,"y1":335},
{"n":"","c":-0.5,"x0":925,"x1":937,"y0":322,"y1":335},
{"n":"","c":1.5,"x0":909,"x1":925,"y0":335,"y1":349},
{"n":"","c":-1.5,"x0":925,"x1":937,"y0":335,"y1":349},

{"n":"آپ","c":6,"x0":939,"x1":966,"y0":305,"y1":349},
{"n":"...مفا","c":4,"x0":966,"x1":990,"y0":305,"y1":349},
{"n":"...ر","c":-0.5,"x0":990,"x1":1008,"y0":305,"y1":321},
{"n":"","c":0.5,"x0":1008,"x1":1021,"y0":305,"y1":321},
{"n":"","c":1.5,"x0":990,"x1":1002,"y0":321,"y1":335},
{"n":"","c":-2.2,"x0":1002,"x1":1012,"y0":321,"y1":335},
{"n":"","c":0.5,"x0":1012,"x1":1021,"y0":321,"y1":335},
{"n":"","c":0.5,"x0":990,"x1":1002,"y0":335,"y1":349},
{"n":"","c":-0.5,"x0":1002,"x1":1012,"y0":335,"y1":349},
{"n":"","c":2.5,"x0":1012,"x1":1021,"y0":335,"y1":349},

{"n":"اخابر","p":"0%","c":-0.001,"x0":853,"x1":909,"y0":363,"y1":409},
{"n":"","c":0.5,"x0":909,"x1":917,"y0":363,"y1":409},
{"n":"کماسه","c":0.5,"x0":918,"x1":964,"y0":363,"y1":386},
{"n":"","c":-0.5,"x0":964,"x1":974,"y0":363,"y1":386},
{"n":"نیان","c":-0.5,"x0":975,"x1":994,"y0":363,"y1":386},
{"n":"...ما","c":-1.5,"x0":994,"x1":1021,"y0":363,"y1":386},
{"n":"","c":-2.2,"x0":918,"x1":934,"y0":399,"y1":430},
{"n":"","c":1.5,"x0":934,"x1":951,"y0":399,"y1":409},
{"n":"","c":-0.5,"x0":934,"x1":943,"y0":409,"y1":430},
{"n":"","c":1.5,"x0":943,"x1":951,"y0":409,"y1":430},
{"n":"","c":-2.2,"x0":952,"x1":987,"y0":399,"y1":410},
{"n":"","c":-0.5,"x0":988,"x1":1008,"y0":399,"y1":410},
{"n":"","c":1.5,"x0":1008,"x1":1021,"y0":399,"y1":410},
{"n":"هایوب","c":-0.5,"x0":853,"x1":883,"y0":424,"y1":460},
{"n":"اوان","c":1.5,"x0":883,"x1":903,"y0":424,"y1":460},
{"n":"...سا","c":0.5,"x0":903,"x1":917,"y0":424,"y1":460},
{"n":"","c":1.5,"x0":952,"x1":980,"y0":424,"y1":437},
{"n":"","c":0.5,"x0":981,"x1":1003,"y0":424,"y1":437},
{"n":"","c":-0.5,"x0":1004,"x1":1021,"y0":424,"y1":437},
{"n":"رمپنا","c":0.5,"x0":918,"x1":951,"y0":441,"y1":460},
{"n":"","c":-0.5,"x0":952,"x1":965,"y0":448,"y1":460},
{"n":"","c":-1.5,"x0":965,"x1":976,"y0":448,"y1":460},
{"n":"","c":-6,"x0":976,"x1":982,"y0":448,"y1":460},
{"n":"","c":-0.5,"x0":982,"x1":987,"y0":448,"y1":460}
]},
"layer":[
{"data":{"name":"groups"},
 "mark":{"type":"rect","fill":"#ffffff","stroke":"#c8c8c8","strokeWidth":1},
 "encoding":{
  "x":{"field":"x0","type":"quantitative","scale":{"domain":[0,1024],"nice":false,"zero":false},"axis":null},
  "x2":{"field":"x1"},
  "y":{"field":"y0","type":"quantitative","scale":{"domain":[0,464],"nice":false,"zero":false,"reverse":true},"axis":null},
  "y2":{"field":"y1"}}},
{"data":{"name":"cells"},
 "mark":{"type":"rect","stroke":"#ffffff","strokeWidth":1},
 "encoding":{
  "x":{"field":"x0","type":"quantitative","scale":{"domain":[0,1024],"nice":false,"zero":false},"axis":null},
  "x2":{"field":"x1"},
  "y":{"field":"y0","type":"quantitative","scale":{"domain":[0,464],"nice":false,"zero":false,"reverse":true},"axis":null},
  "y2":{"field":"y1"},
  "color":{"field":"c","type":"quantitative","legend":null,
   "scale":{"type":"threshold","domain":[-5,-3,-2,-1,0,1,2,3,5],
    "range":["#ff1a1a","#e00000","#b00000","#7d0000","#440000","#0c520c","#1f7f1f","#29a80e","#33dd00","#33ff00"]}}}},
{"data":{"name":"groups"},
 "mark":{"type":"rect","fill":"#ffffff","stroke":"#c8c8c8","strokeWidth":1},
 "encoding":{
  "x":{"field":"x0","type":"quantitative","scale":{"domain":[0,1024],"nice":false,"zero":false},"axis":null},
  "x2":{"field":"x1"},
  "y":{"field":"y0","type":"quantitative","scale":{"domain":[0,464],"nice":false,"zero":false,"reverse":true},"axis":null},
  "y2":{"field":"yh"}}},
{"data":{"name":"groups"},
 "transform":[
  {"filter":"datum.t != ''"},
  {"calculate":"(datum.x0+datum.x1)/2","as":"xc"},
  {"calculate":"(datum.y0+datum.yh)/2+0.5","as":"yc"},
  {"calculate":"'\u202A' + datum.t + '\u202C'","as":"tl"}],
 "mark":{"type":"text","font":"DejaVu Sans","fontSize":7.5,"color":"#333333","align":"center","baseline":"middle"},
 "encoding":{
  "x":{"field":"xc","type":"quantitative","scale":{"domain":[0,1024],"nice":false,"zero":false},"axis":null},
  "y":{"field":"yc","type":"quantitative","scale":{"domain":[0,464],"nice":false,"zero":false,"reverse":true},"axis":null},
  "text":{"field":"tl"}}},
{"data":{"name":"cells"},
 "transform":[
  {"filter":"datum.n != ''"},
  {"calculate":"(datum.x0+datum.x1)/2","as":"xc"},
  {"calculate":"(datum.y0+datum.y1)/2","as":"yc"},
  {"calculate":"datum.p ? '\u202A' + datum.n + '\u202C' + '\\n' + '\u202A' + datum.p + '\u202C' : '\u202A' + datum.n + '\u202C'","as":"lab"},
  {"calculate":"(datum.x1-datum.x0)*(datum.y1-datum.y0)","as":"area"},
  {"calculate":"datum.p ? (datum.area >= 4500 ? max(8, min(18, sqrt(datum.area)/7)) : 5) : max(4, min(8.5, (datum.x1-datum.x0-4)/(length(datum.n)*0.62), (datum.y1-datum.y0)*0.42))","as":"fs"}],
 "mark":{"type":"text","font":"DejaVu Sans","align":"center","baseline":"middle","lineBreak":"\n"},
 "encoding":{
  "x":{"field":"xc","type":"quantitative","scale":{"domain":[0,1024],"nice":false,"zero":false},"axis":null},
  "y":{"field":"yc","type":"quantitative","scale":{"domain":[0,464],"nice":false,"zero":false,"reverse":true},"axis":null},
  "text":{"field":"lab"},
  "size":{"field":"fs","type":"quantitative","scale":null},
  "color":{"condition":{"test":"datum.c >= 3.5","value":"#222222"},"value":"#ffffff"}}}
]
}
